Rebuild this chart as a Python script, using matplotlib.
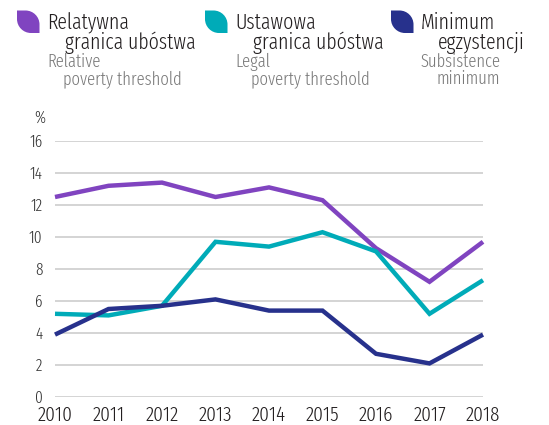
import matplotlib
matplotlib.use('Agg')
import matplotlib.pyplot as plt
from matplotlib.path import Path
from matplotlib.patches import PathPatch
from matplotlib.transforms import IdentityTransform

years = [2010, 2011, 2012, 2013, 2014, 2015, 2016, 2017, 2018]
relative = [12.5, 13.2, 13.4, 12.5, 13.1, 12.3, 9.3, 7.2, 9.7]
legal = [5.2, 5.1, 5.7, 9.7, 9.4, 10.3, 9.1, 5.2, 7.3]
minimum = [3.9, 5.5, 5.7, 6.1, 5.4, 5.4, 2.7, 2.1, 3.9]
yticks = [0, 2, 4, 6, 8, 10, 12, 14, 16]

c_rel = '#8044c0'
c_leg = '#00abb8'
c_min = '#27318c'
grey = '#7a7a7a'
dark = '#231f20'

plt.rcParams['font.family'] = ['Fira Sans Extra Condensed', 'DejaVu Sans']
plt.rcParams['font.weight'] = 300

W, H = 549, 425
fig = plt.figure(figsize=(W / 100, H / 100), dpi=100)
ax = fig.add_axes([55 / W, 1 - 397 / H, 428 / W, 256 / H])

for vals, col in [(relative, c_rel), (legal, c_leg), (minimum, c_min)]:
    ax.plot(years, vals, color=col, lw=3.2, solid_capstyle='butt',
            solid_joinstyle='miter', clip_on=False, zorder=3)

ax.set_xlim(2010, 2018)
ax.set_ylim(0, 16)
ax.set_yticks(yticks)
ax.set_xticks(years)
ax.grid(axis='y', color='#d4d4d4', lw=1.4)
ax.set_axisbelow(True)
for s in ax.spines.values():
    s.set_visible(False)
ax.tick_params(axis='y', length=0, pad=9, labelsize=12, labelcolor='#333333')
ax.tick_params(axis='x', length=0, pad=6, labelsize=15, labelcolor=dark)
ax.text(-0.035, 1.06, '%', transform=ax.transAxes, fontsize=12,
        color='#333333', ha='center', va='bottom')


def leaf(x0, y0, size, color):
    # image coords (y down) -> display coords
    x1, y1 = x0 + size, y0 + size
    r = size * 0.62
    k = 0.55 * r
    def p(x, y):
        return (x, H - y)
    verts = [p(x0, y0), p(x1 - r, y0), p(x1 - r + k, y0), p(x1, y0 + r - k), p(x1, y0 + r),
             p(x1, y1), p(x0 + r, y1), p(x0 + r - k, y1), p(x0, y1 - r + k), p(x0, y1 - r),
             p(x0, y0)]
    codes = [Path.MOVETO, Path.LINETO, Path.CURVE4, Path.CURVE4, Path.CURVE4,
             Path.LINETO, Path.LINETO, Path.CURVE4, Path.CURVE4, Path.CURVE4,
             Path.CLOSEPOLY]
    fig.patches.append(PathPatch(Path(verts, codes), facecolor=color, edgecolor='none',
                                 transform=IdentityTransform()))


legend = [
    (17, c_rel, 'Relatywna', 'granica ubóstwa', 'Relative', 'poverty threshold', 18, 16),
    (205, c_leg, 'Ustawowa', 'granica ubóstwa', 'Legal', 'poverty threshold', 18, 16),
    (391, c_min, 'Minimum', 'egzystencji', 'Subsistence', 'minimum', 17, 16),
]
for x, col, l1, l2, g1, g2, ind1, ind2 in legend:
    leaf(x, 10.5, 22.5, col)
    tx = x + 30
    fig.text(tx / W, 1 - 29 / H, l1, fontsize=15.5, color=dark, va='baseline')
    fig.text((tx + ind1) / W, 1 - 48.5 / H, l2, fontsize=15.5, color=dark, va='baseline')
    fig.text(tx / W, 1 - 67 / H, g1, fontsize=13, color=grey, va='baseline')
    fig.text((tx + ind2) / W, 1 - 84 / H, g2, fontsize=13, color=grey, va='baseline')

fig.savefig('out.png', dpi=100)
